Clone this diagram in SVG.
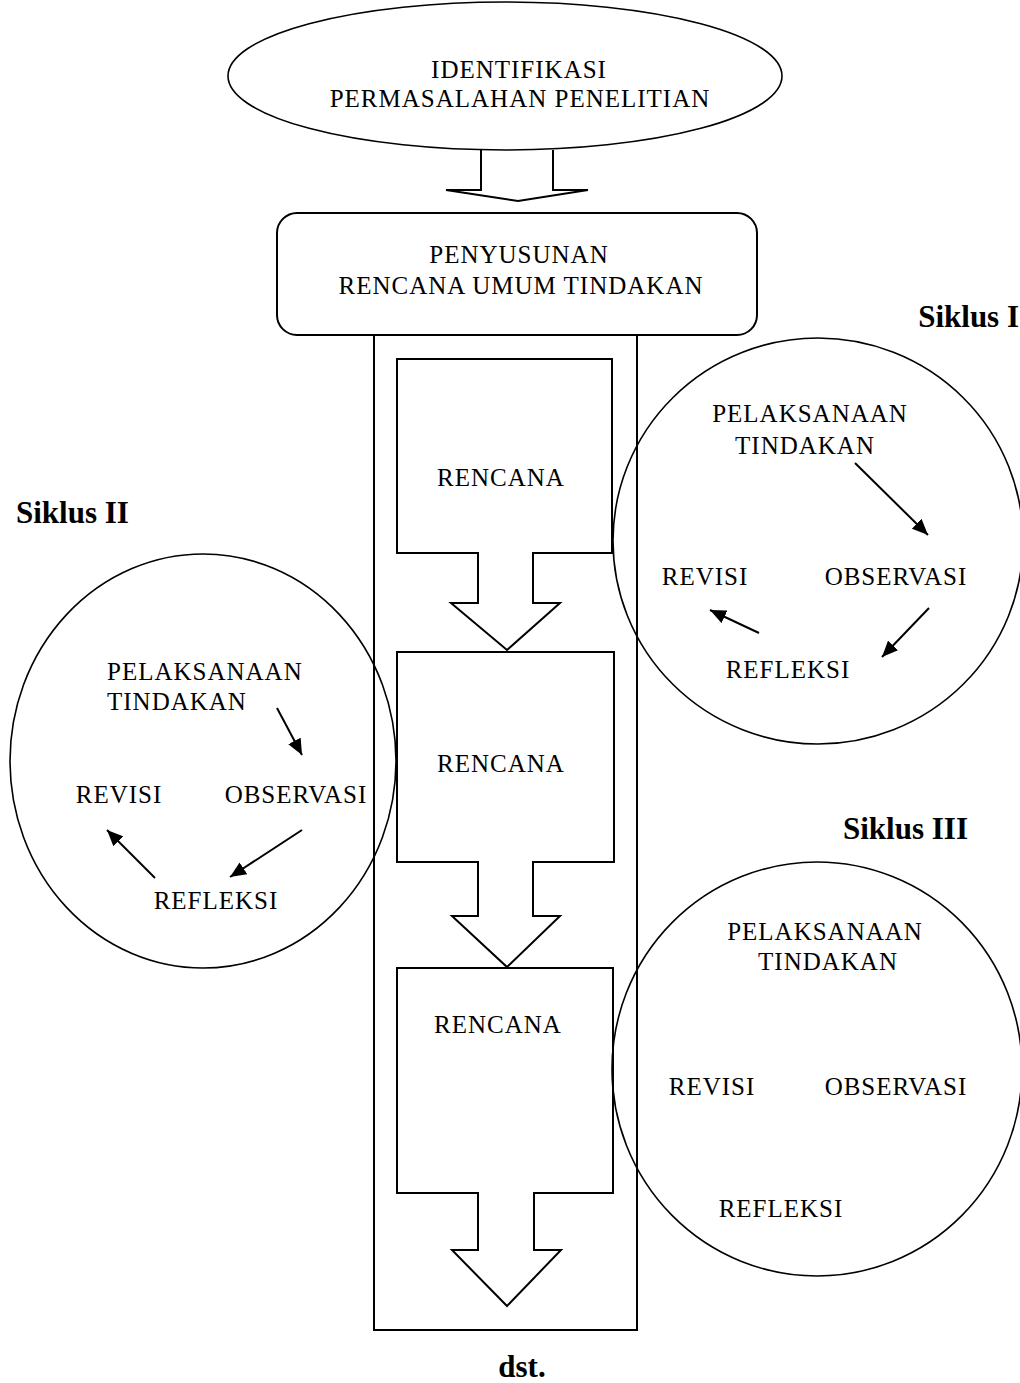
<svg xmlns="http://www.w3.org/2000/svg" width="1020" height="1383" viewBox="0 0 1020 1383">
<style>
.t{font-family:"Liberation Serif","Times New Roman",serif;font-size:25px;letter-spacing:1px;fill:#000}
.m{text-anchor:middle}
.b{font-family:"Liberation Serif","Times New Roman",serif;font-size:31px;font-weight:bold;fill:#000}
.s{fill:none;stroke:#000;stroke-width:2}
.c{fill:none;stroke:#000;stroke-width:1.6}
.a{fill:none;stroke:#000;stroke-width:2}
</style>
<defs>
<marker id="ah" markerUnits="userSpaceOnUse" markerWidth="18" markerHeight="14" refX="16" refY="7" orient="auto">
<path d="M0,0 L16,7 L0,14 Z" fill="#000"/>
</marker>
</defs>
<rect width="1020" height="1383" fill="#fff"/>

<g id="identifikasi">
<ellipse class="c" cx="505" cy="76" rx="277" ry="74"/>
<text class="t m" x="519" y="78">IDENTIFIKASI</text>
<text class="t m" x="520" y="107">PERMASALAHAN PENELITIAN</text>
</g>

<g id="penyusunan">
<rect class="s" x="277" y="213" width="480" height="122" rx="20"/>
<text class="t m" x="519" y="263">PENYUSUNAN</text>
<text class="t m" x="521" y="294">RENCANA UMUM TINDAKAN</text>
</g>

<g id="kolom">
<path class="s" d="M374,335 V1330 H637 V335"/>
</g>

<g id="rencana1">
<path class="s" d="M397,359 H612 V553 H533 V603 H560 L507,650 L451,603 H478 V553 H397 Z"/>
<text class="t m" x="501" y="486">RENCANA</text>
</g>
<g id="rencana2">
<path class="s" d="M397,652 H614 V862 H533 V916 H560 L507,967 L452,916 H478 V862 H397 Z"/>
<text class="t m" x="501" y="772">RENCANA</text>
</g>
<g id="rencana3">
<path class="s" d="M397,968 H613 V1193 H534 V1250 H561 L507,1306 L452,1250 H478 V1193 H397 Z"/>
<text class="t m" x="498" y="1033">RENCANA</text>
</g>

<g id="siklus1">
<text class="b" x="1019" y="327" text-anchor="end">Siklus I</text>
<ellipse class="c" cx="818" cy="541" rx="205" ry="203"/>
<text class="t m" x="810" y="422">PELAKSANAAN</text>
<text class="t m" x="805" y="454">TINDAKAN</text>
<text class="t m" x="705" y="585">REVISI</text>
<text class="t m" x="896" y="585">OBSERVASI</text>
<text class="t m" x="788" y="678">REFLEKSI</text>
</g>

<g id="siklus2">
<text class="b" x="16" y="523">Siklus II</text>
<ellipse class="c" cx="203" cy="761" rx="193" ry="207"/>
<text class="t" x="107" y="680">PELAKSANAAN</text>
<text class="t" x="107" y="710">TINDAKAN</text>
<text class="t m" x="119" y="803">REVISI</text>
<text class="t m" x="296" y="803">OBSERVASI</text>
<text class="t m" x="216" y="909">REFLEKSI</text>
</g>

<g id="siklus3">
<text class="b" x="843" y="839">Siklus III</text>
<ellipse class="c" cx="817" cy="1069" rx="205" ry="207"/>
<text class="t m" x="825" y="940">PELAKSANAAN</text>
<text class="t m" x="828" y="970">TINDAKAN</text>
<text class="t m" x="712" y="1095">REVISI</text>
<text class="t m" x="896" y="1095">OBSERVASI</text>
<text class="t m" x="781" y="1217">REFLEKSI</text>
</g>

<g id="dst">
<text class="b" x="522" y="1377" text-anchor="middle">dst.</text>
</g>

<g id="connectors">
<path class="s" d="M481,150 V190 H446 L518,201 L588,190 H553 V150"/>
<line class="a" x1="855" y1="463" x2="928" y2="535" marker-end="url(#ah)"/>
<line class="a" x1="929" y1="608" x2="882" y2="657" marker-end="url(#ah)"/>
<line class="a" x1="759" y1="633" x2="710" y2="610" marker-end="url(#ah)"/>
<line class="a" x1="277" y1="708" x2="302" y2="755" marker-end="url(#ah)"/>
<line class="a" x1="302" y1="830" x2="230" y2="877" marker-end="url(#ah)"/>
<line class="a" x1="155" y1="878" x2="107" y2="830" marker-end="url(#ah)"/>
</g>
</svg>
